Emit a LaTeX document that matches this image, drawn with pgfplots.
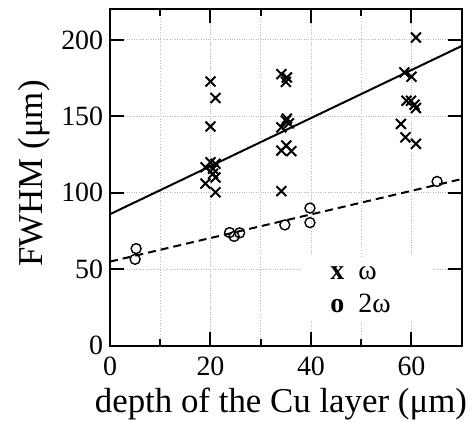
\documentclass[border=0pt]{standalone}
\usepackage{fontspec}
\setmainfont{Liberation Serif}
\usepackage{pgfplots}
\pgfplotsset{compat=1.18}

\begin{document}
\begin{tikzpicture}
\useasboundingbox (-110bp,-79.3bp) rectangle (364bp,345.7bp);
\begin{axis}[
  scale only axis, width=351.7bp, height=336.4bp,
  xmin=0, xmax=70, ymin=0, ymax=220,
  xtick={0,20,40,60}, minor xtick={10,30,50},
  xticklabels={0,20,40,60},
  ytick={0,50,100,150,200},
  yticklabels={0,50,100,150,200},
  tick align=inside,
  major tick length=14bp, minor tick length=7bp,
  xmajorgrids, xminorgrids, ymajorgrids,
  grid style={dotted, gray!55, line width=0.8bp},
  minor grid style={dotted, gray!55, line width=0.8bp},
  axis line style={line width=2bp},
  major tick style={line width=2bp, draw=black, solid},
  minor tick style={line width=2bp, draw=black, solid},
  ticklabel style={font=\fontsize{28}{28}\selectfont},
  yticklabel style={anchor=east, inner sep=0pt, xshift=-6.7bp},
  xticklabel style={anchor=north, inner sep=0pt, yshift=-11bp},
  xlabel={depth of the Cu layer (μm)},
  ylabel={FWHM (μm)},
  xlabel style={font=\fontsize{35}{35}\selectfont, at={(axis description cs:0.486,-0.2)}, anchor=base},
  ylabel style={font=\fontsize{35}{35}\selectfont, at={(axis description cs:-0.192,0.512)}, anchor=base},
]
% blank area behind the key
\fill[white] (axis cs:38,16) rectangle (axis cs:64,58);

% fitted lines
\addplot[line width=2bp] coordinates {(0,86) (70,196)};
\addplot[line width=2bp, dash pattern=on 8bp off 5bp] coordinates {(0,55) (70,109)};

% omega
\addplot[only marks, mark=x, mark size=7bp, mark options={line width=2bp}] coordinates {
  (20,172.8) (21,162) (20,143.3) (19,116.7) (20,120) (21,119) (20.5,115.7)
  (20.5,112.4) (21,110) (19,106) (21,100.4)
  (34.1,177.6) (35.2,175.4) (35,172.5) (34.1,142.8) (35,147.2) (35.6,145.4)
  (35.2,148.5) (34.1,127.6) (35.1,130.9) (36.1,127.2) (34.1,101.1)
  (60.9,201.5) (58.6,178.7) (60,175.9) (59,160.2) (59.9,160.2) (60.6,157.6)
  (60.9,155.4) (57.9,145) (58.8,136.3) (60.9,132)
};
% 2 omega
\addplot[only marks, mark=o, mark size=5bp, mark options={line width=1.4bp}] coordinates {
  (5.2,63.5) (5,56.5) (23.8,74) (24.7,71.5) (25.8,73.8) (34.8,79)
  (39.8,90) (39.8,80.5) (65.1,107.4)
};

% tick marks, drawn by hand so they come out heavy
\pgfplotsinvokeforeach{20,40,60}{
  \draw[line width=2bp] (axis cs:#1,0) -- ++(0,14bp);
  \draw[line width=2bp] (axis cs:#1,220) -- ++(0,-14bp);
}
\pgfplotsinvokeforeach{10,30,50}{
  \draw[line width=2bp] (axis cs:#1,0) -- ++(0,7bp);
  \draw[line width=2bp] (axis cs:#1,220) -- ++(0,-7bp);
}
\pgfplotsinvokeforeach{50,100,150,200}{
  \draw[line width=2bp] (axis cs:0,#1) -- ++(14bp,0);
  \draw[line width=2bp] (axis cs:70,#1) -- ++(-14bp,0);
}

% key
\node[anchor=base west, inner sep=0pt, font=\fontsize{28}{28}\selectfont\bfseries] at (axis cs:43.8,43) {x};
\node[anchor=base west, inner sep=0pt, font=\fontsize{28}{28}\selectfont] at (axis cs:49.4,43) {ω};
\node[anchor=base west, inner sep=0pt, font=\fontsize{28}{28}\selectfont\bfseries] at (axis cs:43.8,21.4) {o};
\node[anchor=base west, inner sep=0pt, font=\fontsize{28}{28}\selectfont] at (axis cs:49.4,21.4) {2ω};
\end{axis}
\end{tikzpicture}
\end{document}
